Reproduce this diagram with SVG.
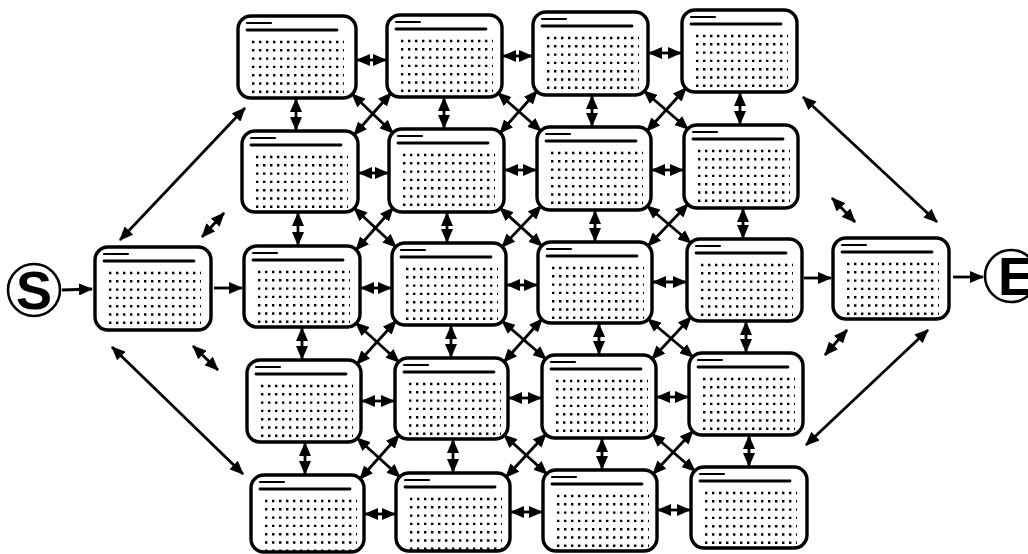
<svg xmlns="http://www.w3.org/2000/svg" xmlns:xlink="http://www.w3.org/1999/xlink" width="1028" height="554" viewBox="0 0 1028 554">
<style>
.box{fill:#fff;stroke:#000;stroke-width:3.4}
.ttl{stroke:#000;stroke-width:2.2;stroke-linecap:round}
.hdr{stroke:#000;stroke-width:2.8;stroke-linecap:round}
.dots{stroke:#000;stroke-width:2.4;stroke-dasharray:2.4 4.6}
.dbl{stroke:#000;stroke-width:2.8;fill:none;marker-start:url(#ah);marker-end:url(#ah)}
.one{stroke:#000;stroke-width:2.8;fill:none;marker-end:url(#ah)}
.circ{fill:#fff;stroke:#000;stroke-width:2.6}
.lbl{font-family:"Liberation Sans",Arial,sans-serif;font-weight:bold;font-size:54px;fill:#000}
</style>
<defs>
<marker id="ah" viewBox="0 0 14 12" refX="13" refY="6" markerWidth="14" markerHeight="12" orient="auto-start-reverse" markerUnits="userSpaceOnUse">
<path d="M0,0 L14,6 L0,12 z" fill="#000"/>
</marker>
<g id="content">
<line class="ttl" x1="9" y1="7" x2="33" y2="7"/>
<line class="hdr" x1="9" y1="14" x2="99" y2="14"/>
<line class="dots" x1="14" y1="26" x2="106" y2="26"/>
<line class="dots" x1="14" y1="34.3" x2="106" y2="34.3"/>
<line class="dots" x1="14" y1="42.6" x2="106" y2="42.6"/>
<line class="dots" x1="14" y1="50.9" x2="106" y2="50.9"/>
<line class="dots" x1="14" y1="59.2" x2="106" y2="59.2"/>
<line class="dots" x1="14" y1="67.5" x2="106" y2="67.5"/>
<line class="dots" x1="14" y1="75.8" x2="106" y2="75.8"/>
</g>
</defs>

<g id="connectors">
<!-- single arrows -->
<line class="one" x1="62" y1="290" x2="92" y2="289"/>
<line class="one" x1="214" y1="288" x2="242" y2="288"/>
<line class="one" x1="804" y1="278" x2="831" y2="278"/>
<line class="one" x1="953" y1="277" x2="983" y2="277"/>
<!-- long diagonals -->
<line class="dbl" x1="120" y1="240" x2="245" y2="108"/>
<line class="dbl" x1="112" y1="347" x2="243" y2="474"/>
<line class="dbl" x1="803" y1="97" x2="937" y2="222"/>
<line class="dbl" x1="928" y1="330" x2="806" y2="445"/>
<!-- short diagonals -->
<line class="dbl" x1="202" y1="237" x2="224" y2="213"/>
<line class="dbl" x1="193" y1="346" x2="218" y2="370"/>
<line class="dbl" x1="832" y1="198" x2="855" y2="222"/>
<line class="dbl" x1="825" y1="355" x2="847" y2="330"/>
<!-- horizontals -->
<line class="dbl" x1="357" y1="60" x2="386" y2="60"/>
<line class="dbl" x1="503" y1="56" x2="532" y2="56"/>
<line class="dbl" x1="649" y1="53" x2="681" y2="53"/>
<line class="dbl" x1="359" y1="173" x2="388" y2="173"/>
<line class="dbl" x1="505" y1="170" x2="536" y2="170"/>
<line class="dbl" x1="652" y1="170" x2="683" y2="170"/>
<line class="dbl" x1="361" y1="288" x2="391" y2="288"/>
<line class="dbl" x1="507" y1="285" x2="537" y2="285"/>
<line class="dbl" x1="653" y1="282" x2="686" y2="282"/>
<line class="dbl" x1="362" y1="401" x2="394" y2="401"/>
<line class="dbl" x1="509" y1="398" x2="541" y2="398"/>
<line class="dbl" x1="657" y1="397" x2="688" y2="397"/>
<line class="dbl" x1="365" y1="514" x2="395" y2="514"/>
<line class="dbl" x1="511" y1="512" x2="542" y2="512"/>
<line class="dbl" x1="658" y1="510" x2="690" y2="510"/>
<!-- verticals -->
<line class="dbl" x1="296" y1="99" x2="296" y2="130"/>
<line class="dbl" x1="298" y1="213" x2="298" y2="245"/>
<line class="dbl" x1="302" y1="328" x2="302" y2="359"/>
<line class="dbl" x1="305" y1="443" x2="305" y2="474"/>
<line class="dbl" x1="444" y1="98" x2="444" y2="128"/>
<line class="dbl" x1="447" y1="213" x2="447" y2="242"/>
<line class="dbl" x1="451" y1="326" x2="451" y2="357"/>
<line class="dbl" x1="453" y1="440" x2="453" y2="472"/>
<line class="dbl" x1="592" y1="96" x2="592" y2="126"/>
<line class="dbl" x1="595" y1="211" x2="595" y2="241"/>
<line class="dbl" x1="599" y1="324" x2="599" y2="354"/>
<line class="dbl" x1="602" y1="439" x2="602" y2="469"/>
<line class="dbl" x1="740" y1="93" x2="740" y2="124"/>
<line class="dbl" x1="743" y1="209" x2="743" y2="238"/>
<line class="dbl" x1="746" y1="322" x2="746" y2="352"/>
<line class="dbl" x1="749" y1="436" x2="749" y2="466"/>
<!-- crossing diagonals -->
<line class="dbl" x1="352" y1="94" x2="393" y2="133"/>
<line class="dbl" x1="391" y1="93" x2="354" y2="135"/>
<line class="dbl" x1="498" y1="93" x2="541" y2="131"/>
<line class="dbl" x1="537" y1="91" x2="500" y2="133"/>
<line class="dbl" x1="644" y1="91" x2="688" y2="129"/>
<line class="dbl" x1="686" y1="88" x2="647" y2="131"/>
<line class="dbl" x1="354" y1="208" x2="396" y2="247"/>
<line class="dbl" x1="393" y1="208" x2="356" y2="250"/>
<line class="dbl" x1="500" y1="208" x2="542" y2="246"/>
<line class="dbl" x1="541" y1="206" x2="502" y2="247"/>
<line class="dbl" x1="647" y1="206" x2="691" y2="243"/>
<line class="dbl" x1="688" y1="204" x2="648" y2="246"/>
<line class="dbl" x1="356" y1="323" x2="399" y2="362"/>
<line class="dbl" x1="396" y1="321" x2="357" y2="364"/>
<line class="dbl" x1="502" y1="321" x2="546" y2="359"/>
<line class="dbl" x1="542" y1="319" x2="504" y2="362"/>
<line class="dbl" x1="648" y1="319" x2="693" y2="357"/>
<line class="dbl" x1="691" y1="317" x2="652" y2="359"/>
<line class="dbl" x1="357" y1="438" x2="400" y2="477"/>
<line class="dbl" x1="399" y1="435" x2="360" y2="479"/>
<line class="dbl" x1="504" y1="435" x2="547" y2="474"/>
<line class="dbl" x1="546" y1="434" x2="506" y2="477"/>
<line class="dbl" x1="652" y1="434" x2="695" y2="471"/>
<line class="dbl" x1="693" y1="431" x2="653" y2="474"/>
</g>

<g id="node-S"><circle class="circ" cx="34" cy="290" r="26"/><text class="lbl" x="34" y="309" text-anchor="middle">S</text></g>
<g id="node-E"><circle class="circ" cx="1011" cy="276" r="26"/><text class="lbl" x="998" y="295">E</text></g>

<g id="node-L"><rect class="box" x="95" y="247" width="116" height="83" rx="13"/><use xlink:href="#content" x="95" y="247"/></g>
<g id="node-R"><rect class="box" x="833" y="238" width="116" height="81" rx="13"/><use xlink:href="#content" x="833" y="238"/></g>

<g id="node-c1r0"><rect class="box" x="238" y="16" width="118" height="82" rx="13"/><use xlink:href="#content" x="238" y="16"/></g>
<g id="node-c1r1"><rect class="box" x="242" y="131" width="116" height="81" rx="13"/><use xlink:href="#content" x="242" y="131"/></g>
<g id="node-c1r2"><rect class="box" x="244" y="246" width="116" height="81" rx="13"/><use xlink:href="#content" x="244" y="246"/></g>
<g id="node-c1r3"><rect class="box" x="247" y="360" width="114" height="82" rx="13"/><use xlink:href="#content" x="247" y="360"/></g>
<g id="node-c1r4"><rect class="box" x="251" y="475" width="113" height="77" rx="13"/><use xlink:href="#content" x="251" y="475"/></g>

<g id="node-c2r0"><rect class="box" x="387" y="15" width="115" height="82" rx="13"/><use xlink:href="#content" x="387" y="15"/></g>
<g id="node-c2r1"><rect class="box" x="389" y="129" width="115" height="83" rx="13"/><use xlink:href="#content" x="389" y="129"/></g>
<g id="node-c2r2"><rect class="box" x="392" y="243" width="114" height="82" rx="13"/><use xlink:href="#content" x="392" y="243"/></g>
<g id="node-c2r3"><rect class="box" x="395" y="358" width="113" height="81" rx="13"/><use xlink:href="#content" x="395" y="358"/></g>
<g id="node-c2r4"><rect class="box" x="396" y="473" width="114" height="78" rx="13"/><use xlink:href="#content" x="396" y="473"/></g>

<g id="node-c3r0"><rect class="box" x="533" y="12" width="115" height="83" rx="13"/><use xlink:href="#content" x="533" y="12"/></g>
<g id="node-c3r1"><rect class="box" x="537" y="127" width="114" height="83" rx="13"/><use xlink:href="#content" x="537" y="127"/></g>
<g id="node-c3r2"><rect class="box" x="538" y="242" width="114" height="81" rx="13"/><use xlink:href="#content" x="538" y="242"/></g>
<g id="node-c3r3"><rect class="box" x="542" y="355" width="114" height="83" rx="13"/><use xlink:href="#content" x="542" y="355"/></g>
<g id="node-c3r4"><rect class="box" x="543" y="470" width="114" height="81" rx="13"/><use xlink:href="#content" x="543" y="470"/></g>

<g id="node-c4r0"><rect class="box" x="682" y="10" width="115" height="82" rx="13"/><use xlink:href="#content" x="682" y="10"/></g>
<g id="node-c4r1"><rect class="box" x="684" y="125" width="114" height="83" rx="13"/><use xlink:href="#content" x="684" y="125"/></g>
<g id="node-c4r2"><rect class="box" x="687" y="239" width="115" height="82" rx="13"/><use xlink:href="#content" x="687" y="239"/></g>
<g id="node-c4r3"><rect class="box" x="689" y="353" width="114" height="82" rx="13"/><use xlink:href="#content" x="689" y="353"/></g>
<g id="node-c4r4"><rect class="box" x="691" y="467" width="116" height="81" rx="13"/><use xlink:href="#content" x="691" y="467"/></g>
</svg>
